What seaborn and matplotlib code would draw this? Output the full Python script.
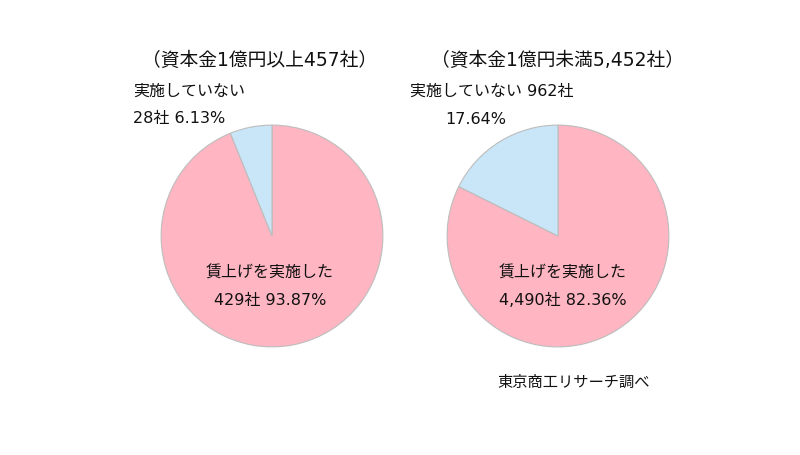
import matplotlib
matplotlib.use("Agg")
import matplotlib.pyplot as plt
import seaborn as sns

# data
groups = ["資本金1億円以上", "資本金1億円未満"]
raised = [429, 4490]
not_raised = [28, 962]
slice_labels = ["賃上げを実施した", "実施していない"]

sns.set_theme(style="white")
# DejaVu first for Meiryo-like wide digits, CJK falls back to Noto
plt.rcParams['font.family'] = ['DejaVu Sans', 'Noto Sans CJK JP']
plt.rcParams['text.color'] = '#111111'
colors = ["#FFB5C2", "#C8E6F8"]

W, H = 800, 456
fig = plt.figure(figsize=(8, 4.56), dpi=100)


def fx(px):
    return px / W


def fy(py):
    return 1 - py / H


centers = [(272, 237), (558, 237)]
radius = 112

for i, (cx, cy) in enumerate(centers):
    ax = fig.add_axes([fx(cx - radius), fy(cy + radius), 2 * radius / W, 2 * radius / H])
    vals = [raised[i], not_raised[i]]
    ax.pie(vals, colors=colors, startangle=90, counterclock=False, radius=1,
           wedgeprops=dict(edgecolor="#BDBDBD", linewidth=0.8))
    ax.set_xlim(-1.01, 1.01)
    ax.set_ylim(-1.01, 1.01)
    ax.axis("off")

total = [r + n for r, n in zip(raised, not_raised)]
pct_raised = [100 * r / t for r, t in zip(raised, total)]
pct_not = [100 * n / t for n, t in zip(not_raised, total)]

fs_title = 13.5
fs = 11.5
# titles
fig.text(fx(260), fy(60), f"（{groups[0]}{total[0]:,}社）", ha="center", va="center", fontsize=fs_title)
fig.text(fx(558), fy(60), f"（{groups[1]}{total[1]:,}社）", ha="center", va="center", fontsize=fs_title)

# left labels
fig.text(fx(133), fy(91), slice_labels[1], ha="left", va="center", fontsize=fs)
fig.text(fx(133), fy(119), f"{not_raised[0]:,}社 {pct_not[0]:.2f}%", ha="left", va="center", fontsize=fs)
fig.text(fx(270), fy(273), slice_labels[0], ha="center", va="center", fontsize=fs)
fig.text(fx(270), fy(300), f"{raised[0]:,}社 {pct_raised[0]:.2f}%", ha="center", va="center", fontsize=fs)

# right labels
fig.text(fx(410), fy(91), f"{slice_labels[1]} {not_raised[1]:,}社", ha="left", va="center", fontsize=fs)
fig.text(fx(445), fy(119), f"{pct_not[1]:.2f}%", ha="left", va="center", fontsize=fs)
fig.text(fx(563), fy(273), slice_labels[0], ha="center", va="center", fontsize=fs)
fig.text(fx(563), fy(300), f"{raised[1]:,}社 {pct_raised[1]:.2f}%", ha="center", va="center", fontsize=fs)

fig.text(fx(497), fy(382), "東京商工リサーチ調べ", ha="left", va="center", fontsize=11)

fig.savefig("out.png", dpi=100, facecolor="white")
